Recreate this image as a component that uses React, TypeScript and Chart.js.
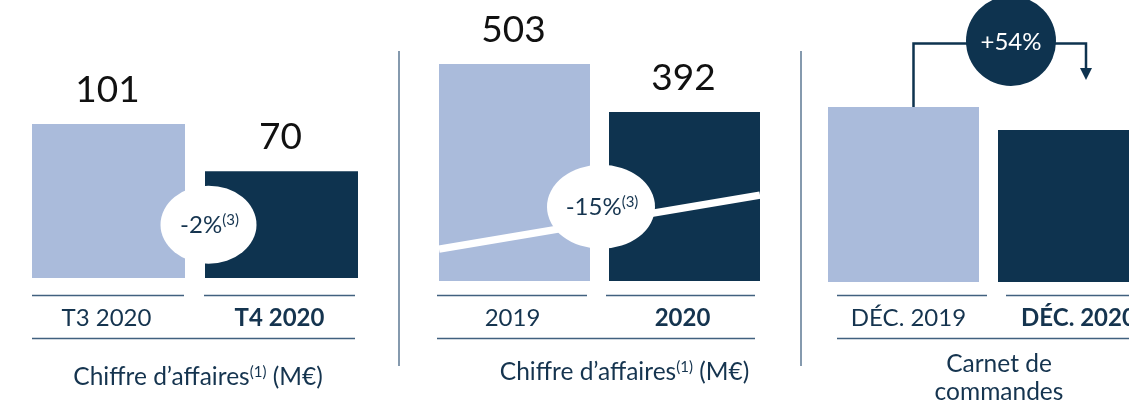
import React, { useEffect, useRef } from "react";
import { Chart, registerables } from "chart.js";

Chart.register(...registerables);

// ---------- data ----------
const quarterLabels = ["T3 2020", "T4 2020"];
const quarterValues = [101, 70];
const quarterChange = ["-2%", "(3)"];

const yearLabels = ["2019", "2020"];
const yearValues = [503, 392];
const yearChange = ["-15%", "(3)"];
const yearTrend = [74, 199];

const orderLabels = ["DÉC. 2019", "DÉC. 2020"];
const orderValues = [175, 152];
const orderChange = "+54%";

const revenueTitle = ["Chiffre d’affaires", "(1)", " (M€)"];
const orderTitle = ["Carnet de", "commandes"];

// ---------- styles ----------
const W = 1170;
const H = 402;
const LIGHT = "#aabbdb";
const NAVY = "#0e334f";
const LINE = "#41617f";
const SEP = "#5d7893";
const TEXT = "#15344f";
const FONT = "Lato, 'Open Sans', sans-serif";

const f = (size: number, weight = "normal") => `${weight} ${size}px ${FONT}`;

type Run = { t: string; size: number; weight?: string; rise?: number };

function drawRuns(ctx: CanvasRenderingContext2D, runs: Run[], cx: number, baseline: number, color: string) {
  const widths = runs.map((r) => {
    ctx.font = f(r.size, r.weight);
    return ctx.measureText(r.t).width;
  });
  const total = widths.reduce((a, b) => a + b, 0);
  let x = cx - total / 2;
  ctx.fillStyle = color;
  ctx.textAlign = "left";
  ctx.textBaseline = "alphabetic";
  runs.forEach((r, i) => {
    ctx.font = f(r.size, r.weight);
    ctx.fillText(r.t, x, baseline - (r.rise || 0));
    x += widths[i];
  });
}

const decorPlugin = {
  id: "decor",
  afterDatasetsDraw(chart: any, _args: any, o: any) {
    const ctx = chart.ctx as CanvasRenderingContext2D;
    const bars = chart.getDatasetMeta(0).data;
    const ys = chart.scales.y;
    const b1 = bars[0];
    const b2 = bars[1];
    const l1 = b1.x - b1.width / 2;
    const r1 = b1.x + b1.width / 2;
    const l2 = b2.x - b2.width / 2;
    const r2 = b2.x + b2.width / 2;
    ctx.save();

    if (o.separatorX != null) {
      ctx.strokeStyle = SEP;
      ctx.lineWidth = 1.5;
      ctx.beginPath();
      ctx.moveTo(o.separatorX, 51);
      ctx.lineTo(o.separatorX, 366);
      ctx.stroke();
    }

    if (o.trend) {
      ctx.strokeStyle = "#ffffff";
      ctx.lineWidth = 7.5;
      ctx.beginPath();
      ctx.moveTo(l1, ys.getPixelForValue(o.trend[0]));
      ctx.lineTo(r2, ys.getPixelForValue(o.trend[1]));
      ctx.stroke();
    }

    if (o.bubble) {
      const cx = (r1 + l2) / 2 + o.bubble.dx;
      const cy = ys.getPixelForValue(o.bubble.value);
      ctx.fillStyle = "#ffffff";
      ctx.beginPath();
      ctx.ellipse(cx, cy, o.bubble.rx, o.bubble.ry, 0, 0, Math.PI * 2);
      ctx.fill();
      drawRuns(
        ctx,
        [
          { t: o.bubble.text[0], size: 24 },
          { t: o.bubble.text[1], size: 15, rise: 8 },
        ],
        cx + 1,
        cy + 8,
        TEXT
      );
    }

    if (o.showValues) {
      ctx.fillStyle = "#111111";
      ctx.textAlign = "center";
      ctx.textBaseline = "alphabetic";
      ctx.font = f(37);
      chart.data.datasets[0].data.forEach((v: number, i: number) => {
        const b = bars[i];
        ctx.fillText(String(v), b.x - 1, b.y - 22);
      });
    }

    if (o.circle) {
      const c = o.circle;
      const cx = (r1 + l2) / 2 + c.dx;
      const cy = c.cy;
      const lx = b1.x + c.leftDx;
      const rx = b2.x + c.rightDx;
      ctx.strokeStyle = NAVY;
      ctx.lineWidth = 2.5;
      ctx.beginPath();
      ctx.moveTo(lx, b1.y);
      ctx.lineTo(lx, c.lineY);
      ctx.lineTo(cx, c.lineY);
      ctx.moveTo(cx, c.lineY);
      ctx.lineTo(rx, c.lineY);
      ctx.lineTo(rx, 70);
      ctx.stroke();
      ctx.fillStyle = NAVY;
      ctx.beginPath();
      ctx.moveTo(rx - 6, 68);
      ctx.lineTo(rx + 6, 68);
      ctx.lineTo(rx, 80);
      ctx.closePath();
      ctx.fill();
      ctx.beginPath();
      ctx.arc(cx, cy, c.r, 0, Math.PI * 2);
      ctx.fill();
      ctx.fillStyle = "#ffffff";
      ctx.font = f(24);
      ctx.textAlign = "center";
      ctx.textBaseline = "alphabetic";
      ctx.fillText(c.text, cx, cy + 9);
    }

    // underlines and long line
    const s = o.lineShift;
    ctx.strokeStyle = LINE;
    ctx.lineWidth = 1.6;
    ctx.beginPath();
    ctx.moveTo(l1 + s, 295.5);
    ctx.lineTo(r1 + s - 1, 295.5);
    ctx.moveTo(l2 + s - 1, 295.5);
    ctx.lineTo(r2 + s - 3, 295.5);
    ctx.moveTo(l1 + s, 338.5);
    ctx.lineTo(r2 + s - 3, 338.5);
    ctx.stroke();

    // title
    const tcx = (l1 + r2) / 2 + o.titleDx;
    o.titleLines.forEach((runs: Run[], i: number) => {
      drawRuns(ctx, runs, tcx, o.titleBaseline + i * 28, TEXT);
    });

    ctx.restore();
  },
};

type Panel = {
  labels: string[];
  values: number[];
  yMax: number;
  area: [number, number];
  bottom: number;
  barPct: number;
  tickPad: number;
  labelOffset: number;
  decor: any;
};

const revenueRuns: Run[] = [
  { t: revenueTitle[0], size: 24.5 },
  { t: revenueTitle[1], size: 15, rise: 8 },
  { t: revenueTitle[2], size: 24.5 },
];

const panels: Panel[] = [
  {
    labels: quarterLabels,
    values: quarterValues,
    yMax: 182.3,
    area: [22, 368],
    bottom: 278,
    barPct: 153 / 173,
    tickPad: 26,
    labelOffset: -2,
    decor: {
      showValues: true,
      bubble: { value: 35, dx: 13.5, rx: 48, ry: 39, text: quarterChange },
      lineShift: 0,
      titleDx: 3,
      titleBaseline: 385,
      titleLines: [revenueRuns],
    },
  },
  {
    labels: yearLabels,
    values: yearValues,
    yMax: 651.4,
    area: [429.5, 769.5],
    bottom: 281,
    barPct: 151 / 170,
    tickPad: 23,
    labelOffset: -2,
    decor: {
      separatorX: 399,
      showValues: true,
      trend: yearTrend,
      bubble: { value: 172, dx: 1.5, rx: 54, ry: 42, text: yearChange },
      lineShift: -2,
      titleDx: 25,
      titleBaseline: 380,
      titleLines: [revenueRuns],
    },
  },
  {
    labels: orderLabels,
    values: orderValues,
    yMax: 282,
    area: [818.5, 1158.5],
    bottom: 282,
    barPct: 151 / 170,
    tickPad: 22,
    labelOffset: 5,
    decor: {
      separatorX: 801,
      showValues: false,
      circle: { text: orderChange, dx: 22.5, cy: 41, r: 45, lineY: 43.5, leftDx: 10, rightDx: 12.5 },
      lineShift: 9,
      titleDx: 10.5,
      titleBaseline: 372,
      titleLines: [[{ t: orderTitle[0], size: 24.5 }], [{ t: orderTitle[1], size: 24.5 }]],
    },
  },
];

function PanelChart({ p }: { p: Panel }) {
  const ref = useRef<HTMLCanvasElement>(null);
  useEffect(() => {
    if (!ref.current) return;
    const chart = new Chart(ref.current, {
      type: "bar",
      data: {
        labels: p.labels,
        datasets: [
          {
            data: p.values,
            backgroundColor: [LIGHT, NAVY],
            borderWidth: 0,
            barPercentage: p.barPct,
            categoryPercentage: 1,
          },
        ],
      },
      options: {
        animation: false,
        responsive: false,
        maintainAspectRatio: false,
        events: [],
        layout: { padding: { left: p.area[0], right: W - p.area[1], top: 0, bottom: 0 } },
        plugins: {
          legend: { display: false },
          tooltip: { enabled: false },
          decor: p.decor,
        } as any,
        scales: {
          x: {
            grid: { display: false, drawTicks: false },
            border: { display: false },
            ticks: {
              color: TEXT,
              padding: p.tickPad,
              labelOffset: p.labelOffset,
              autoSkip: false,
              maxRotation: 0,
              minRotation: 0,
              font: (c: any) => ({ family: FONT, size: 24, weight: c.index === 1 ? "bold" : "normal" }),
            },
            afterFit: (s: any) => {
              s.height = H - p.bottom;
            },
          } as any,
          y: { display: false, min: 0, max: p.yMax },
        },
      },
      plugins: [decorPlugin],
    });
    return () => chart.destroy();
  }, [p]);
  return (
    <canvas
      ref={ref}
      width={W}
      height={H}
      style={{ position: "absolute", left: 0, top: 0, width: W, height: H }}
    />
  );
}

export default function App() {
  return (
    <div
      style={{
        position: "absolute",
        left: 0,
        top: 0,
        width: 1129,
        height: 402,
        overflow: "hidden",
        background: "#ffffff",
      }}
    >
      {panels.map((p, i) => (
        <PanelChart key={i} p={p} />
      ))}
    </div>
  );
}
